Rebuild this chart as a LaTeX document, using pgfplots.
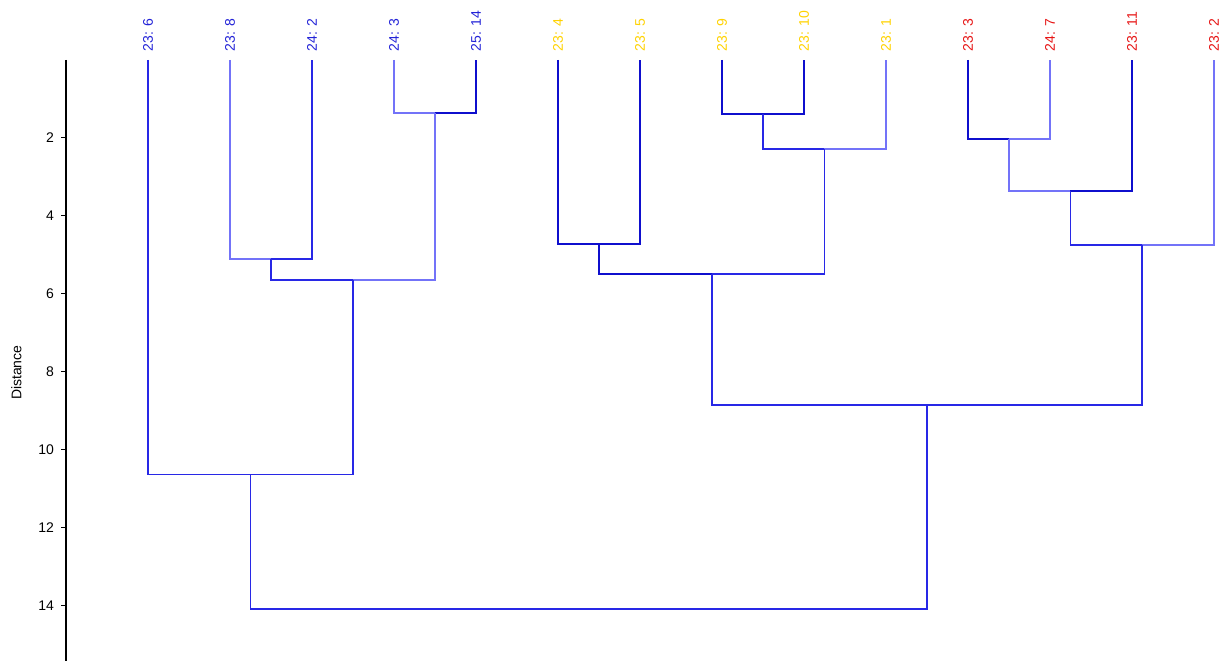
\documentclass[border=0pt]{standalone}
\usepackage{fontspec}
\setmainfont{Liberation Sans}
\usepackage{pgfplots}
\pgfplotsset{compat=1.18}

\definecolor{dk}{RGB}{15,15,205}
\definecolor{md}{RGB}{40,40,230}
\definecolor{lt}{RGB}{115,115,248}
\definecolor{lblue}{RGB}{35,35,215}
\definecolor{lyel}{RGB}{255,210,0}
\definecolor{lred}{RGB}{230,20,20}

\begin{document}
\begin{tikzpicture}
\begin{axis}[
    scale only axis,
    width=579pt, height=301pt,
    xmin=0, xmax=14.11,
    ymin=0, ymax=15.44,
    y dir=reverse,
    clip=false,
    axis x line=none,
    axis y line=left,
    axis line style={-, black, line width=0.9pt},
    ytick={2,4,6,8,10,12,14},
    y tick style={black, line width=0.6pt},
    tick align=outside,
    major tick length=2.5pt,
    y tick label style={font=\fontsize{7}{8}\selectfont},
    /pgf/number format/assume math mode=true,
    ylabel={Distance},
    ylabel style={font=\fontsize{7}{8}\selectfont, at={(axis description cs:-0.043,0.48)}, anchor=center, rotate=0},
    every axis plot/.append style={line width=0.9pt, mark=none},
    leaf/.style={draw=none, nodes near coords, point meta=explicit symbolic,
        nodes near coords align={anchor=west},
        nodes near coords style={rotate=90, inner sep=0pt, text=#1,
            font=\fontsize{7}{8}\selectfont}},
]
% leaf labels
\addplot[leaf=lblue] coordinates {(1,-0.2) [23: 6] (2,-0.2) [23: 8] (3,-0.2) [24: 2]
    (4,-0.2) [24: 3] (5,-0.2) [25: 14]};
\addplot[leaf=lyel] coordinates {(6,-0.2) [23: 4] (7,-0.2) [23: 5] (8,-0.2) [23: 9]
    (9,-0.2) [23: 10] (10,-0.2) [23: 1]};
\addplot[leaf=lred] coordinates {(11,-0.2) [23: 3] (12,-0.2) [24: 7] (13,-0.2) [23: 11]
    (14,-0.2) [23: 2]};

% 24:3 + 25:14
\addplot[lt] coordinates {(4,0) (4,1.36) (4.5,1.36)};
\addplot[dk] coordinates {(4.5,1.36) (5,1.36) (5,0)};
% 23:8 + 24:2
\addplot[lt] coordinates {(2,0) (2,5.10) (2.5,5.10)};
\addplot[md] coordinates {(2.5,5.10) (3,5.10) (3,0)};
% (23:8,24:2) + (24:3,25:14)
\addplot[md] coordinates {(2.5,5.10) (2.5,5.64) (3.5,5.64)};
\addplot[lt] coordinates {(3.5,5.64) (4.5,5.64) (4.5,1.36)};
% 23:6 + rest of blue group
\addplot[md] coordinates {(1,0) (1,10.64) (2.25,10.64)};
\addplot[md] coordinates {(2.25,10.64) (3.5,10.64) (3.5,5.64)};
% 23:4 + 23:5
\addplot[dk] coordinates {(6,0) (6,4.72) (6.5,4.72)};
\addplot[dk] coordinates {(6.5,4.72) (7,4.72) (7,0)};
% 23:9 + 23:10
\addplot[dk] coordinates {(8,0) (8,1.38) (8.5,1.38)};
\addplot[dk] coordinates {(8.5,1.38) (9,1.38) (9,0)};
% (23:9,23:10) + 23:1
\addplot[md] coordinates {(8.5,1.38) (8.5,2.28) (9.25,2.28)};
\addplot[lt] coordinates {(9.25,2.28) (10,2.28) (10,0)};
% yellow group
\addplot[dk] coordinates {(6.5,4.72) (6.5,5.49) (7.875,5.49)};
\addplot[md] coordinates {(7.875,5.49) (9.25,5.49) (9.25,2.28)};
% 23:3 + 24:7
\addplot[dk] coordinates {(11,0) (11,2.03) (11.5,2.03)};
\addplot[lt] coordinates {(11.5,2.03) (12,2.03) (12,0)};
% + 23:11
\addplot[lt] coordinates {(11.5,2.03) (11.5,3.36) (12.25,3.36)};
\addplot[dk] coordinates {(12.25,3.36) (13,3.36) (13,0)};
% + 23:2
\addplot[md] coordinates {(12.25,3.36) (12.25,4.74) (13.125,4.74)};
\addplot[lt] coordinates {(13.125,4.74) (14,4.74) (14,0)};
% yellow + red
\addplot[md] coordinates {(7.875,5.49) (7.875,8.85) (10.5,8.85)};
\addplot[md] coordinates {(10.5,8.85) (13.125,8.85) (13.125,4.74)};
% root
\addplot[md] coordinates {(2.25,10.64) (2.25,14.10) (6.375,14.10)};
\addplot[md] coordinates {(6.375,14.10) (10.5,14.10) (10.5,8.85)};

\coordinate (bbl) at (axis cs:-0.805,15.44);
\coordinate (btr) at (axis cs:14.11,-1.54);
\end{axis}
\pgfresetboundingbox
\path[use as bounding box] (bbl) rectangle (btr);
\end{tikzpicture}
\end{document}
